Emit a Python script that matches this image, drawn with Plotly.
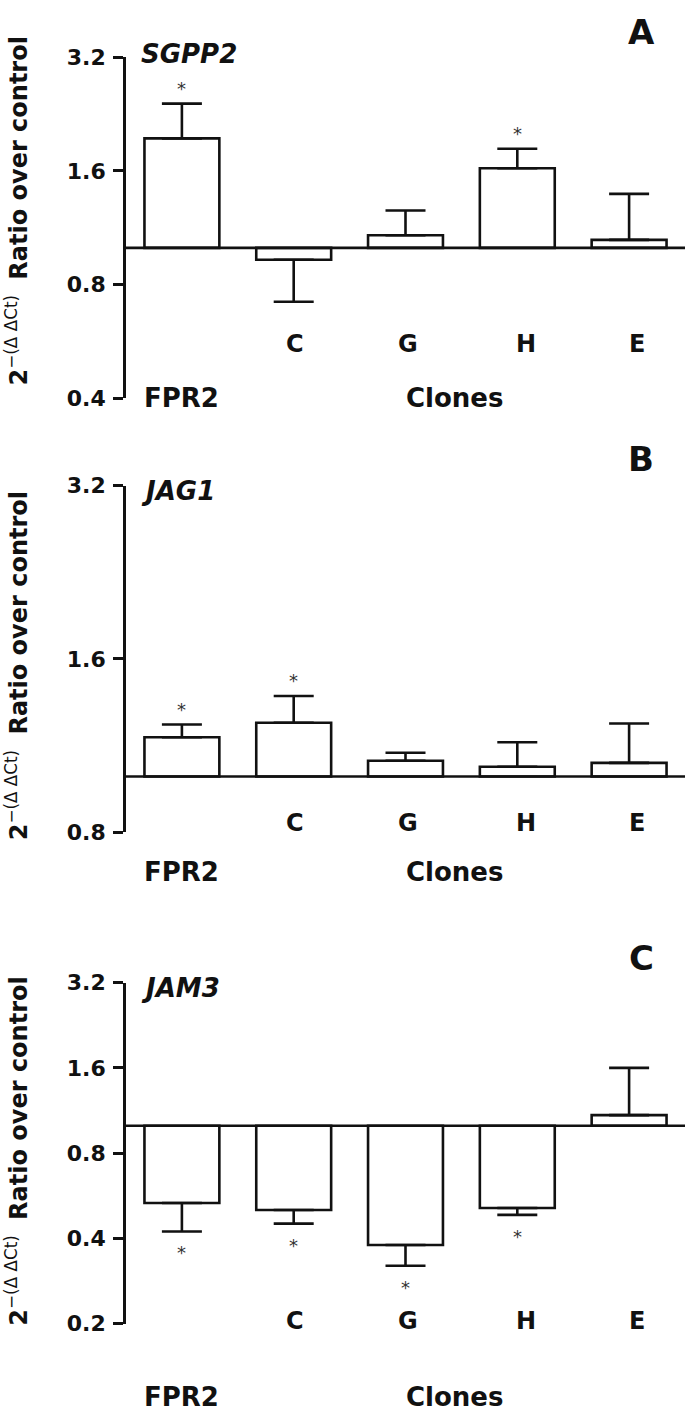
import plotly.graph_objects as go
import math

# ---------------- data ----------------
categories = ["FPR2", "C", "G", "H", "E"]
tick_labels = ["", "C", "G", "H", "E"]

genes = ["SGPP2", "JAG1", "JAM3"]
panel_letters = ["A", "B", "C"]

sgpp2_values = [1.95, 0.93, 1.08, 1.625, 1.05]
sgpp2_err_tips = [2.41, 0.72, 1.256, 1.83, 1.39]
sgpp2_signif = [True, False, False, True, False]

jag1_values = [1.17, 1.24, 1.065, 1.04, 1.056]
jag1_err_tips = [1.231, 1.38, 1.10, 1.147, 1.236]
jag1_signif = [True, True, False, False, False]

jam3_values = [0.533, 0.504, 0.379, 0.512, 1.09]
jam3_err_tips = [0.423, 0.451, 0.32, 0.484, 1.6]
jam3_signif = [True, True, True, True, False]

y_ticks_A = [0.4, 0.8, 1.6, 3.2]
y_ticks_B = [0.8, 1.6, 3.2]
y_ticks_C = [0.2, 0.4, 0.8, 1.6, 3.2]

# ---------------- layout helpers ----------------
W, H = 693, 1425
FONT = "DejaVu Sans"
BLACK = "#111111"
LW = 2.6


def py(pix):
    return 1 - pix / H


def px(pix):
    return pix / W


panels = [
    dict(values=sgpp2_values, tips=sgpp2_err_tips, sig=sgpp2_signif, ticks=y_ticks_A,
         top=46, bottom=393, cat_y=338, foot_y=393, title_c=203, letter_y=20, gene_y=43),
    dict(values=jag1_values, tips=jag1_err_tips, sig=jag1_signif, ticks=y_ticks_B,
         top=482, bottom=835, cat_y=825, foot_y=875, title_c=666, letter_y=455, gene_y=488),
    dict(values=jam3_values, tips=jam3_err_tips, sig=jam3_signif, ticks=y_ticks_C,
         top=988, bottom=1335, cat_y=1332, foot_y=1410, title_c=1160, letter_y=963, gene_y=993),
]
label_xshift = {"C": 1, "G": 2, "H": 9, "E": 8}

fig = go.Figure()
annotations = []
shapes = []
x_domain = [px(126), px(685)]

for i, p in enumerate(panels):
    n = i + 1
    xa = "x" if n == 1 else f"x{n}"
    ya = "y" if n == 1 else f"y{n}"
    base = [1.0] * len(categories)
    sizes = [v - 1.0 for v in p["values"]]
    plus = [max(t - v, 0) if v >= 1 else 0 for v, t in zip(p["values"], p["tips"])]
    minus = [max(v - t, 0) if v < 1 else 0 for v, t in zip(p["values"], p["tips"])]
    fig.add_trace(go.Bar(
        x=categories, y=sizes, base=base, width=0.67,
        marker=dict(color="white", line=dict(color=BLACK, width=LW)),
        error_y=dict(type="data", symmetric=False, array=plus, arrayminus=minus,
                     color=BLACK, thickness=LW, width=20),
        xaxis=xa, yaxis=ya, showlegend=False, hoverinfo="skip",
    ))

    lo, hi = min(p["ticks"]), max(p["ticks"])
    fig.update_layout(**{
        ("xaxis" if n == 1 else f"xaxis{n}"): dict(
            domain=x_domain, anchor=ya, visible=False,
            range=[-0.5, len(categories) - 0.5],
            categoryorder="array", categoryarray=categories),
        ("yaxis" if n == 1 else f"yaxis{n}"): dict(
            domain=[py(p["bottom"]), py(p["top"])], anchor=xa, type="log",
            range=[math.log10(lo) - 1e-6, math.log10(hi) + 1e-6],
            tickvals=p["ticks"], ticktext=[f"{t:g}" for t in p["ticks"]],
            showline=True, linecolor=BLACK, linewidth=LW,
            ticks="outside", ticklen=10, tickwidth=LW, tickcolor=BLACK,
            ticklabelstandoff=3,
            tickfont=dict(family=FONT, size=22, color=BLACK, weight="bold"),
            showgrid=False, zeroline=False),
    })

    # baseline at ratio = 1
    shapes.append(dict(type="line", xref=f"{xa} domain", yref=ya,
                       x0=0, x1=1, y0=1, y1=1, line=dict(color=BLACK, width=LW)))

    # significance stars
    for c, v, t, s in zip(categories, p["values"], p["tips"], p["sig"]):
        if not s:
            continue
        if v >= 1:
            annotations.append(dict(x=c, y=math.log10(t), xref=xa, yref=ya, text="*",
                                    showarrow=False, xanchor="center", yanchor="bottom", yshift=3,
                                    font=dict(family=FONT, size=18, color="#333333")))
        else:
            annotations.append(dict(x=c, y=math.log10(t), xref=xa, yref=ya, text="*",
                                    showarrow=False, xanchor="center", yanchor="top", yshift=-9,
                                    font=dict(family=FONT, size=18, color="#333333")))

    # category labels
    for c, lab in zip(categories, tick_labels):
        if lab:
            annotations.append(dict(x=c, y=py(p["cat_y"]), xref=xa, yref="paper", text=f"<b>{lab}</b>",
                                    showarrow=False, xanchor="center", yanchor="middle",
                                    xshift=label_xshift.get(lab, 0),
                                    font=dict(family=FONT, size=24, color=BLACK)))
    # footers
    annotations.append(dict(x=px(181), y=py(p["foot_y"]), xref="paper", yref="paper",
                            text="<b>FPR2</b>", showarrow=False, xanchor="center", yanchor="middle",
                            font=dict(family=FONT, size=26, color=BLACK)))
    annotations.append(dict(x=px(454), y=py(p["foot_y"]), xref="paper", yref="paper",
                            text="<b>Clones</b>", showarrow=False, xanchor="center", yanchor="middle",
                            font=dict(family=FONT, size=26, color=BLACK)))
    # panel letter
    annotations.append(dict(x=px(641), y=py(p["letter_y"]), xref="paper", yref="paper",
                            text=f"<b>{panel_letters[i]}</b>", showarrow=False,
                            xanchor="center", yanchor="middle",
                            font=dict(family=FONT, size=34, color=BLACK)))
    # gene name
    annotations.append(dict(x=px(139), y=py(p["gene_y"]), xref="paper", yref="paper",
                            text=f"<b><i>{genes[i]}</i></b>", showarrow=False,
                            xanchor="left", yanchor="middle",
                            font=dict(family=FONT, size=26, color=BLACK)))
    # y-axis title
    annotations.append(dict(x=px(17), y=py(p["title_c"]), xref="paper", yref="paper",
                            text="<b>2</b><sup>−(Δ ΔCt)</sup>  <b>Ratio over control</b>",
                            showarrow=False, textangle=-90, xanchor="center", yanchor="middle",
                            font=dict(family=FONT, size=24, color=BLACK)))

fig.update_layout(
    width=W, height=H,
    margin=dict(l=0, r=0, t=0, b=0),
    paper_bgcolor="white", plot_bgcolor="white",
    annotations=annotations, shapes=shapes,
)

post = (
    "document.documentElement.style.margin='0';"
    "document.documentElement.style.padding='0';"
    "document.documentElement.style.overflow='hidden';"
    "document.body.style.margin='0';"
    "document.body.style.padding='0';"
    "document.body.style.overflow='hidden';"
)

fig.write_html("out.html", config={"displayModeBar": False}, post_script=post)
